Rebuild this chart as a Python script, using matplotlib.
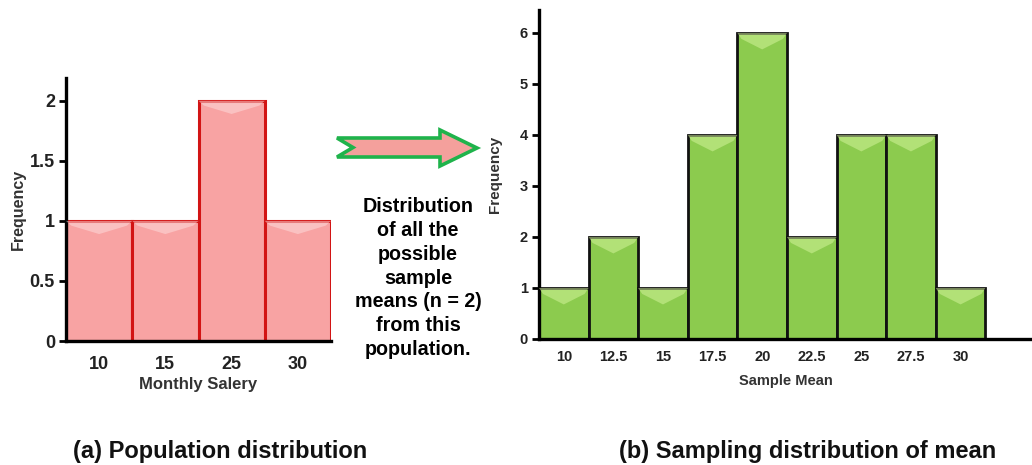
import matplotlib.pyplot as plt
from matplotlib.patches import Polygon

plt.rcParams['font.family'] = ['Liberation Sans', 'DejaVu Sans']
plt.rcParams['font.weight'] = 'bold'

# population of monthly salaries
salary_labels = ['10', '15', '25', '30']
salary_freq = [1, 1, 2, 1]

# all sample means for n = 2
mean_labels = ['10', '12.5', '15', '17.5', '20', '22.5', '25', '27.5', '30']
mean_freq = [1, 2, 1, 4, 6, 2, 4, 4, 1]

W, H = 1032, 465
fig = plt.figure(figsize=(W / 100, H / 100), dpi=100)


def px(x0, y0, x1, y1):
    # pixel box (top-left origin) -> figure fraction rect
    return [x0 / W, 1 - y1 / H, (x1 - x0) / W, (y1 - y0) / H]


def style_axes(ax, tick_size, xpad):
    for s in ['top', 'right']:
        ax.spines[s].set_visible(False)
    for s in ['left', 'bottom']:
        ax.spines[s].set_linewidth(2.4)
        ax.spines[s].set_color('black')
    ax.tick_params(axis='y', length=5, width=2, direction='out', labelsize=tick_size, pad=3)
    ax.tick_params(axis='x', length=0, labelsize=tick_size, pad=xpad)
    for lab in ax.get_xticklabels() + ax.get_yticklabels():
        lab.set_fontweight('bold')
        lab.set_color('#222222')


def bevel(ax, heights, light, width=1.0):
    # lighter top facet on every bar
    span = ax.get_ylim()[1]
    for i, h in enumerate(heights):
        x0, x1 = i - width / 2, i + width / 2
        top = [(x0, h), (x1, h), (x1 - 0.08, h - span * 0.018), (i, h - span * 0.05),
               (x0 + 0.08, h - span * 0.018)]
        ax.add_patch(Polygon(top, closed=True, facecolor=light, edgecolor='none',
                             alpha=0.5, zorder=3))


# (a) population histogram
ax1 = fig.add_axes(px(66, 78, 331, 341))
x1 = range(len(salary_freq))
ax1.bar(x1, salary_freq, width=1.0, color='#f8a3a3', edgecolor='#d21414',
        linewidth=2.2, zorder=2)
ax1.set_xlim(-0.5, 3.5)
ax1.set_ylim(0, 2.19)
ax1.set_xticks(list(x1))
ax1.set_xticklabels(salary_labels)
ax1.set_yticks([0, 0.5, 1, 1.5, 2])
ax1.set_yticklabels(['0', '0.5', '1', '1.5', '2'])
style_axes(ax1, 13, 11)
bevel(ax1, salary_freq, '#fde0e0')
ax1.set_xlabel('Monthly Salery', fontsize=12, fontweight='bold', color='#333333', labelpad=3)
ax1.set_ylabel('Frequency', fontsize=11.5, fontweight='bold', color='#333333', labelpad=3)

# (b) sampling distribution of the mean
ax2 = fig.add_axes(px(539, 10, 1032, 339))
x2 = range(len(mean_freq))
ax2.bar(x2, mean_freq, width=1.0, color='#8ccb4e', edgecolor='#111111',
        linewidth=2.0, zorder=2)
ax2.set_xlim(-0.5, 9.44)
ax2.set_ylim(0, 6.45)
ax2.set_xticks(list(x2))
ax2.set_xticklabels(mean_labels)
ax2.set_yticks(range(7))
style_axes(ax2, 10.5, 8)
bevel(ax2, mean_freq, '#d8f7a0')
ax2.set_xlabel('Sample Mean', fontsize=10.5, fontweight='bold', color='#333333', labelpad=7)
ax2.set_ylabel('Frequency', fontsize=11, fontweight='bold', color='#333333', labelpad=13)

# arrow between the two panels
arrow_px = [(337, 138), (440, 138), (440, 130), (477, 148), (440, 166),
            (440, 157), (337, 157), (353, 147.5)]
arrow = Polygon([(x / W, 1 - y / H) for x, y in arrow_px], closed=True,
                facecolor='#f4a09c', edgecolor='#1fb34b', linewidth=2.6,
                transform=fig.transFigure)
fig.patches.append(arrow)

fig.text(418 / W, 1 - 278 / H,
         'Distribution\nof all the\npossible\nsample\nmeans (n = 2)\nfrom this\npopulation.',
         ha='center', va='center', fontsize=14.2, fontweight='bold',
         linespacing=1.32, color='black')

fig.text(220 / W, 1 - 451 / H, '(a) Population distribution',
         ha='center', va='center', fontsize=17, fontweight='bold', color='#111111')
fig.text(808 / W, 1 - 451 / H, '(b) Sampling distribution of mean',
         ha='center', va='center', fontsize=17, fontweight='bold', color='#111111')

fig.savefig('out.png', dpi=100)
